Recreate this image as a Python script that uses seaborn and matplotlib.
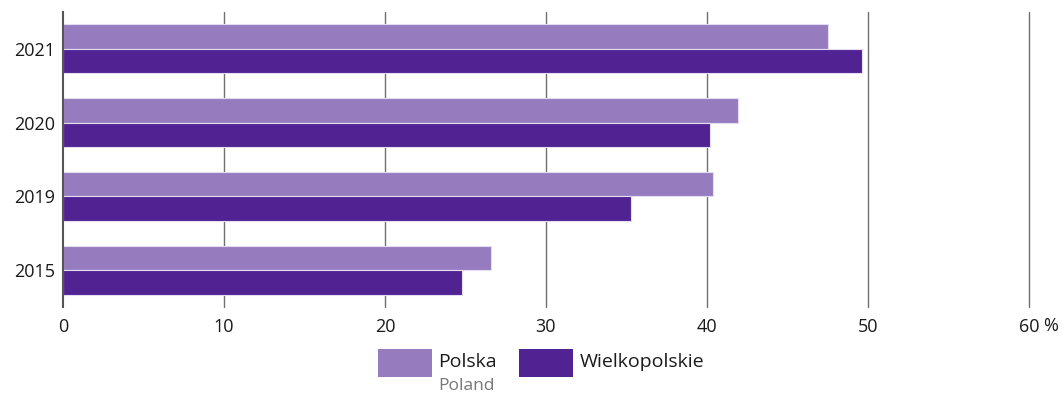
import matplotlib
matplotlib.use("Agg")
import matplotlib.pyplot as plt
from matplotlib.patches import Rectangle
import seaborn as sns
import pandas as pd

# Share of population (%) by year
years = ["2021", "2020", "2019", "2015"]
polska = [47.5, 41.9, 40.4, 26.6]
wielkopolskie = [49.6, 40.2, 35.3, 24.8]
series = ["Polska", "Wielkopolskie"]
series_sub = ["Poland", ""]
colors = ["#967cbf", "#512392"]
x_ticks = [0, 10, 20, 30, 40, 50, 60]
x_labels = ["0", "10", "20", "30", "40", "50", "60"]
unit = "%"

df = pd.DataFrame({
    "year": years * 2,
    "value": polska + wielkopolskie,
    "series": [series[0]] * len(years) + [series[1]] * len(years),
})

sns.set_theme(style="white")
plt.rcParams["font.family"] = ["Open Sans", "DejaVu Sans"]

W, H = 1064, 394
fig = plt.figure(figsize=(W / 100, H / 100), dpi=100)
ax = fig.add_axes([63 / W, (H - 307) / H, (1029 - 63) / W, 295 / H])

sns.barplot(
    data=df, x="value", y="year", hue="series",
    order=years, hue_order=series, palette=colors, saturation=1,
    orient="h", width=0.667, dodge=True, ax=ax,
    edgecolor="#e4dcf2", linewidth=0.8, legend=False,
)

ax.set_xlim(0, 60)
ax.set_ylim(3.5, -0.5)
ax.set_xlabel("")
ax.set_ylabel("")

for v in x_ticks[1:]:
    ax.axvline(v, color="#707070", linewidth=1.0, zorder=0, clip_on=False)

ax.set_xticks(x_ticks)
ax.set_xticklabels(x_labels)
ax.tick_params(axis="x", length=0, pad=8, labelsize=13, colors="#1a1a1a")
ax.tick_params(axis="y", length=0, pad=6, labelsize=13, colors="#1a1a1a")

# unit sign after the last tick label
ax.annotate(unit, xy=(x_ticks[-1], 0), xycoords=("data", "axes fraction"),
            xytext=(10.5, -14), textcoords="offset points",
            ha="left", va="center", fontsize=13, color="#1a1a1a",
            annotation_clip=False)

for s in ["top", "right", "bottom"]:
    ax.spines[s].set_visible(False)
ax.spines["left"].set_color("#555555")
ax.spines["left"].set_linewidth(1.5)

# Legend
patch_x = [378, 519]
text_x = [438, 580]
for px, tx, name, sub, c in zip(patch_x, text_x, series, series_sub, colors):
    fig.add_artist(Rectangle((px / W, (H - 377) / H), 54 / W, 28 / H,
                             transform=fig.transFigure, facecolor=c,
                             edgecolor="none"))
    fig.text(tx / W, (H - 362) / H, name, fontsize=14, color="#1a1a1a",
             va="center", ha="left")
    if sub:
        fig.text(tx / W, (H - 386) / H, sub, fontsize=12.5, color="#777777",
                 va="center", ha="left")

fig.savefig("out.png", dpi=100)
